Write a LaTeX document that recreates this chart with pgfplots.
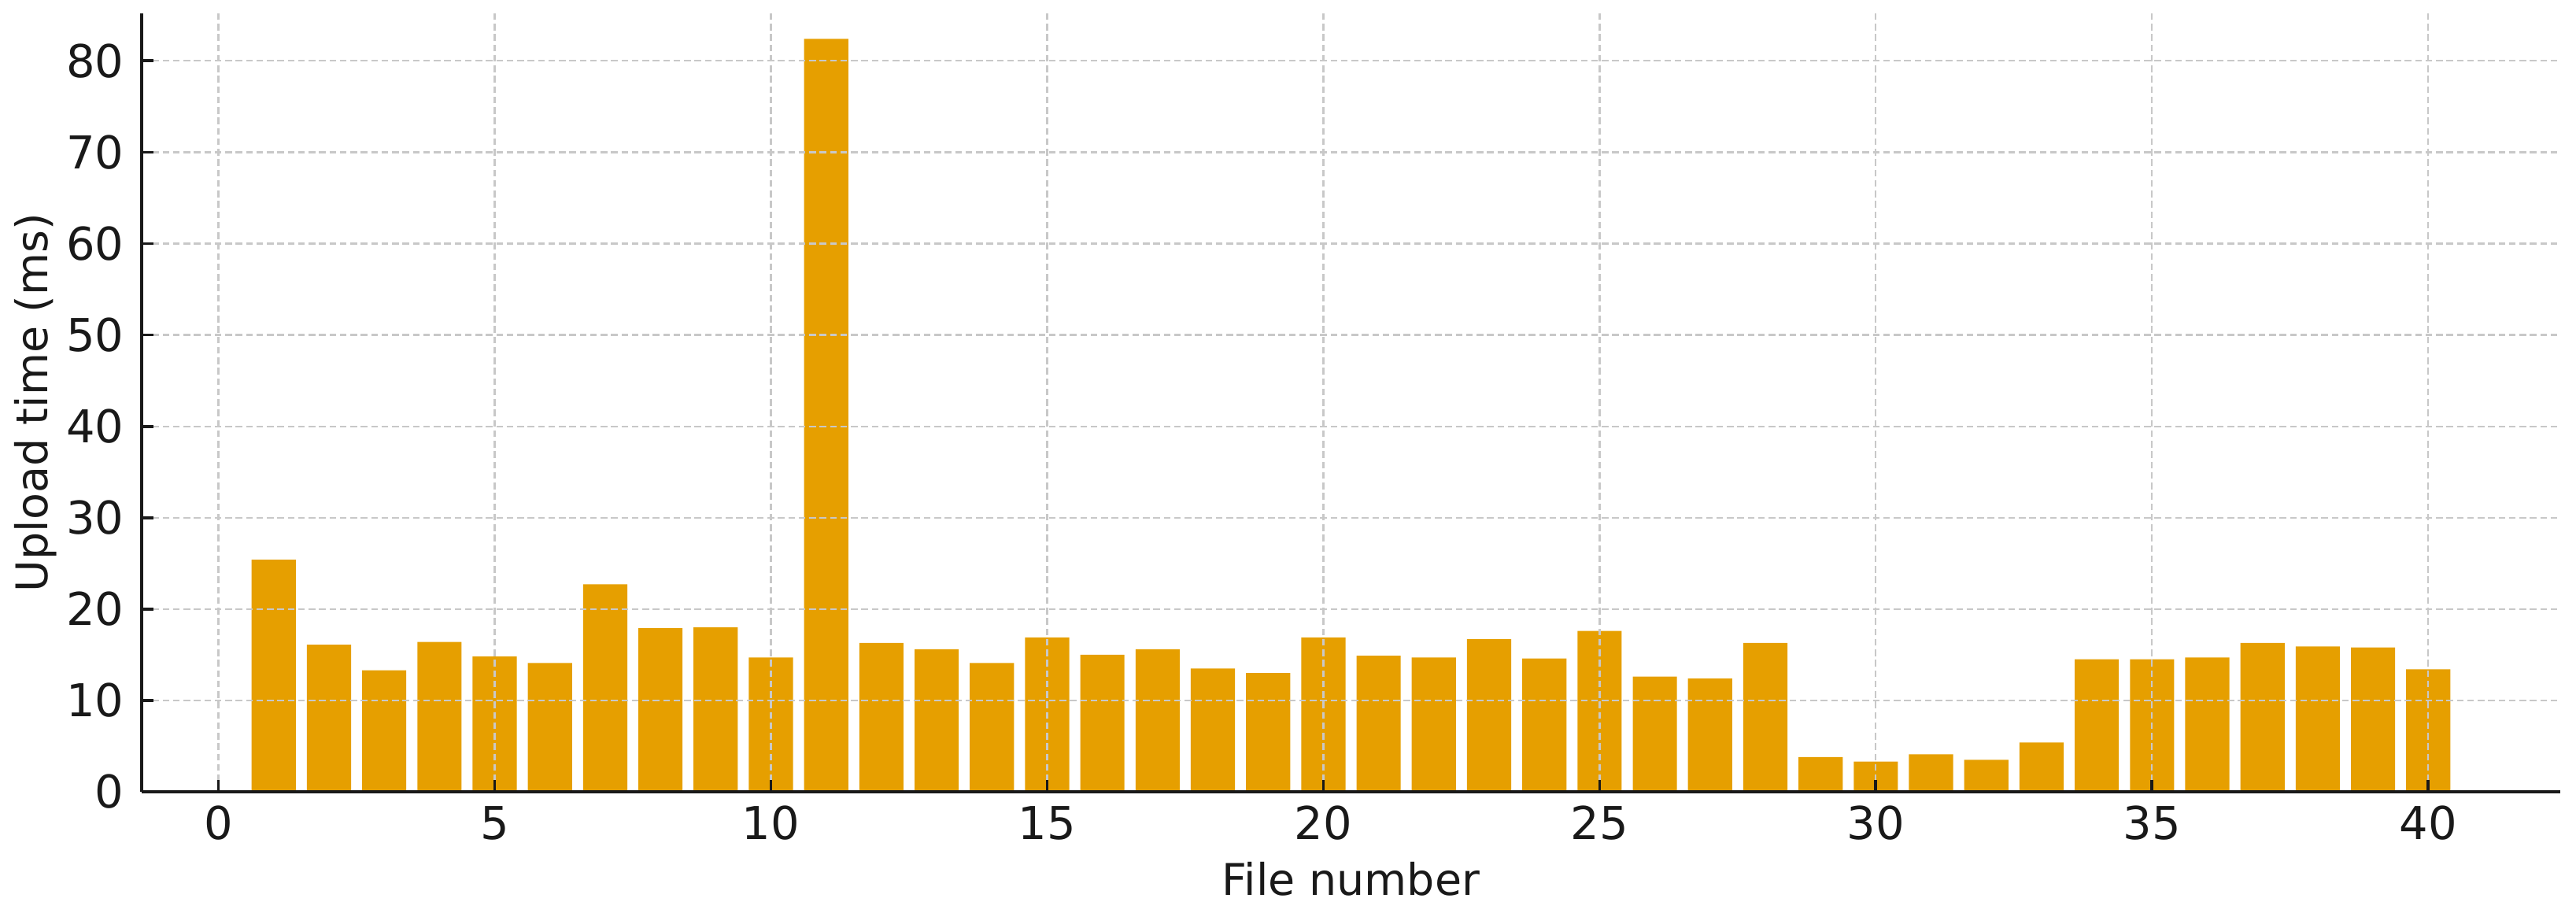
\documentclass[border=0pt]{standalone}
\usepackage{fontspec}
\setmainfont{DejaVu Sans}
\usepackage{pgfplots}
\pgfplotsset{compat=1.18}
\definecolor{barorange}{HTML}{E69F00}
\definecolor{gridgray}{HTML}{C8C8C8}

\begin{document}
\begin{tikzpicture}
\useasboundingbox (0,0) rectangle (654.6pt,232pt);
\begin{axis}[
  at={(36pt,30.8pt)}, anchor=south west,
  scale only axis,
  width=614.6pt, height=197.8pt,
  xmin=-1.39, xmax=42.39, ymin=0, ymax=85.2,
  xtick={0,5,...,40},
  ytick={0,10,...,80},
  axis lines=left,
  axis line style={-, line width=0.75pt, black!90},
  tick align=inside,
  major tick length=3pt,
  tick style={line width=0.75pt, black!90},
  grid=major,
  grid style={gridgray, line width=0.45pt, dash pattern=on 1.7pt off 0.95pt},
  axis on top,
  /pgf/number format/assume math mode=true,
  ticklabel style={font=\fontsize{11.5}{13}\selectfont, text=black!90},
  xticklabel style={anchor=base, inner sep=0pt, yshift=-12.2pt},
  yticklabel style={anchor=east, inner sep=0pt, xshift=-4.3pt},
  label style={font=\fontsize{11.1}{13}\selectfont, text=black!90, inner sep=0pt},
  xlabel={File number},
  xlabel style={at={(rel axis cs:0.5,0)}, anchor=base, yshift=-26.4pt},
  ylabel={Upload time (ms)},
  ylabel style={at={(axis description cs:-0.0348,0.5)}, anchor=south},
]
\addplot[ybar, bar width=0.8, fill=barorange, draw=none] coordinates {
  (1,25.4) (2,16.1) (3,13.3) (4,16.4) (5,14.8)
  (6,14.1) (7,22.7) (8,17.9) (9,18.0) (10,14.7)
  (11,82.4) (12,16.3) (13,15.6) (14,14.1) (15,16.9)
  (16,15.0) (17,15.6) (18,13.5) (19,13.0) (20,16.9)
  (21,14.9) (22,14.7) (23,16.7) (24,14.6) (25,17.6)
  (26,12.6) (27,12.4) (28,16.3) (29,3.8) (30,3.3)
  (31,4.1) (32,3.5) (33,5.4) (34,14.5) (35,14.5)
  (36,14.7) (37,16.3) (38,15.9) (39,15.8) (40,13.4)
};
\end{axis}
\end{tikzpicture}
\end{document}
